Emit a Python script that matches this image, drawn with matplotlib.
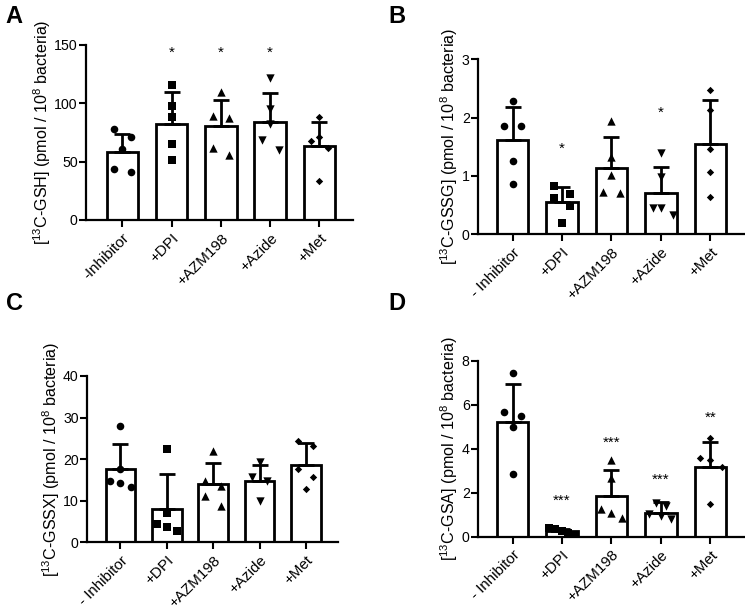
import numpy as np
import matplotlib
matplotlib.use("Agg")
import matplotlib.pyplot as plt
from matplotlib.transforms import ScaledTranslation

plt.rcParams['font.family'] = ['Liberation Sans', 'DejaVu Sans']
plt.rcParams['mathtext.default'] = 'regular'

# ---- data ----
labels_a = ["-Inhibitor", "+DPI", "+AZM198", "+Azide", "+Met"]
labels = ["- Inhibitor", "+DPI", "+AZM198", "+Azide", "+Met"]

gsh_mean = [58, 82.6, 80.3, 84.3, 63.4]
gsh_sd = [16, 26.8, 22.3, 24.7, 20.9]
gsh_pts = [[77.7, 71.4, 60.6, 43.7, 41.4],
           [115.7, 98, 88, 65, 51.4],
           [110, 89, 87.7, 61.4, 55.7],
           [121.4, 94.9, 82, 68.6, 60],
           [88, 70.9, 68, 61.4, 33.7]]
gsh_sig = ["", "*", "*", "*", ""]

gssg_mean = [1.62, 0.55, 1.14, 0.70, 1.54]
gssg_sd = [0.56, 0.26, 0.53, 0.46, 0.76]
gssg_pts = [[2.29, 1.85, 1.85, 1.25, 0.87],
            [0.83, 0.63, 0.69, 0.49, 0.20],
            [1.95, 1.32, 1.02, 0.72, 0.70],
            [1.39, 0.98, 0.45, 0.45, 0.33],
            [2.47, 2.13, 1.46, 1.06, 0.64]]
gssg_sig = ["", "*", "", "*", ""]

gssx_mean = [17.55, 8.0, 13.95, 14.7, 18.6]
gssx_sd = [6.15, 8.35, 5.15, 3.9, 5.2]
gssx_pts = [[28.0, 17.6, 14.75, 14.2, 13.4],
            [22.5, 7.1, 4.3, 3.6, 2.8],
            [22.0, 14.75, 13.5, 11.1, 8.8],
            [19.4, 15.8, 14.75, 10.0],
            [24.4, 23.2, 17.55, 15.6, 12.75]]
gssx_sig = ["", "", "", "", ""]

gsa_mean = [5.23, 0.25, 1.85, 1.09, 3.15]
gsa_sd = [1.69, 0.12, 1.18, 0.50, 1.17]
gsa_pts = [[7.45, 5.65, 5.48, 4.98, 2.83],
           [0.38, 0.33, 0.26, 0.15, 0.08],
           [3.47, 2.68, 1.26, 1.06, 0.86],
           [1.55, 1.41, 1.02, 0.95, 0.79],
           [4.5, 3.58, 3.47, 3.15, 1.47]]
gsa_sig = ["", "***", "***", "***", "**"]

# ---- layout ----
markers = ['o', 's', '^', 'v', 'D']
msizes = [30, 27, 36, 36, 14]

panels = [
    dict(letter="A", rect=[0.1154, 0.6388, 0.3584, 0.2874], lpos=(0.019, 0.992),
         mean=gsh_mean, sd=gsh_sd, pts=gsh_pts, sig=gsh_sig, sig_y=[0, 143, 143, 143, 0],
         ylim=150, yticks=[0, 50, 100, 150], xlim=(-0.74, 4.68), xl=labels_a,
         ylabel="[$^{13}$C-GSH] (pmol / 10$^{8}$ bacteria)",
         offs=[[-.17, .17, 0, -.17, .17], [0, 0, 0, 0, 0], [0, -.17, .17, -.17, .17],
               [0, 0, 0, -.17, .17], [0, 0, -.17, .17, 0]]),
    dict(letter="B", rect=[0.6416, 0.6153, 0.3584, 0.2874], lpos=(0.533, 0.992),
         mean=gssg_mean, sd=gssg_sd, pts=gssg_pts, sig=gssg_sig, sig_y=[0, 1.46, 0, 2.09, 0],
         ylim=3, yticks=[0, 1, 2, 3], xlim=(-0.70, 4.70), xl=labels,
         ylabel="[$^{13}$C-GSSG] (pmol / 10$^{8}$ bacteria)",
         offs=[[0, -.17, .17, 0, 0], [-.17, -.17, .17, .17, 0], [0, 0, 0, -.17, .17],
               [0, 0, -.16, 0, .24], [0, 0, 0, 0, 0]]),
    dict(letter="C", rect=[0.1168, 0.1095, 0.3369, 0.2731], lpos=(0.019, 0.521),
         mean=gssx_mean, sd=gssx_sd, pts=gssx_pts, sig=gssx_sig, sig_y=[0] * 5,
         ylim=40, yticks=[0, 10, 20, 30, 40], xlim=(-0.72, 4.69), xl=labels,
         ylabel="[$^{13}$C-GSSX] (pmol / 10$^{8}$ bacteria)",
         offs=[[0, 0, -.22, 0, .22], [0, 0, -.22, 0, .22], [0, -.17, .17, -.17, .17],
               [0, -.16, .17, 0], [-.17, .16, -.17, .16, 0]]),
    dict(letter="D", rect=[0.6416, 0.1187, 0.3584, 0.2890], lpos=(0.533, 0.521),
         mean=gsa_mean, sd=gsa_sd, pts=gsa_pts, sig=gsa_sig, sig_y=[0, 1.64, 4.27, 2.58, 5.41],
         ylim=8, yticks=[0, 2, 4, 6, 8], xlim=(-0.70, 4.70), xl=labels,
         ylabel="[$^{13}$C-GSA] (pmol / 10$^{8}$ bacteria)",
         offs=[[0, -.17, .17, 0, 0], [-.26, -.14, 0, .12, .25], [0, 0, -.22, 0, .21],
               [-.1, .1, -.24, 0, .2], [0, -.22, 0, .24, 0]]),
]

fig = plt.figure(figsize=(7.45, 6.09), dpi=100)
shift = ScaledTranslation(3 / 100, -1 / 100, fig.dpi_scale_trans)

for p in panels:
    ax = fig.add_axes(p["rect"])
    x = np.arange(len(p["mean"]))
    ax.bar(x, p["mean"], width=0.64, color="white", edgecolor="black", linewidth=2.0, zorder=2)
    ax.errorbar(x, p["mean"], yerr=[np.zeros(len(x)), p["sd"]], fmt="none", ecolor="black",
                elinewidth=2.0, capsize=6, capthick=2.0, zorder=3)
    for i, vals in enumerate(p["pts"]):
        xs = i + np.array(p["offs"][i][:len(vals)])
        ax.scatter(xs, vals, marker=markers[i], s=msizes[i], color="black", zorder=4,
                   linewidths=0)
    for i, s in enumerate(p["sig"]):
        if s:
            ax.text(i, p["sig_y"][i], s, ha="center", va="center", fontsize=11)
    ax.set_xlim(*p["xlim"])
    ax.set_ylim(0, p["ylim"])
    ax.set_yticks(p["yticks"])
    ax.set_xticks(x)
    ax.set_xticklabels(p["xl"], rotation=45, ha="right", rotation_mode="anchor", fontsize=10.9)
    for t in ax.get_xticklabels():
        t.set_transform(t.get_transform() + shift)
    ax.tick_params(axis="y", labelsize=10.2, width=1.5, length=5, pad=1)
    ax.tick_params(axis="x", width=1.5, length=5, pad=3)
    ax.set_ylabel(p["ylabel"], fontsize=11.6, labelpad=1)
    for sp in ["top", "right"]:
        ax.spines[sp].set_visible(False)
    for sp in ["left", "bottom"]:
        ax.spines[sp].set_linewidth(1.6)
    fig.text(p["lpos"][0], p["lpos"][1], p["letter"], fontsize=17, fontweight="bold",
             ha="center", va="top")

fig.savefig("out.png", dpi=100)
